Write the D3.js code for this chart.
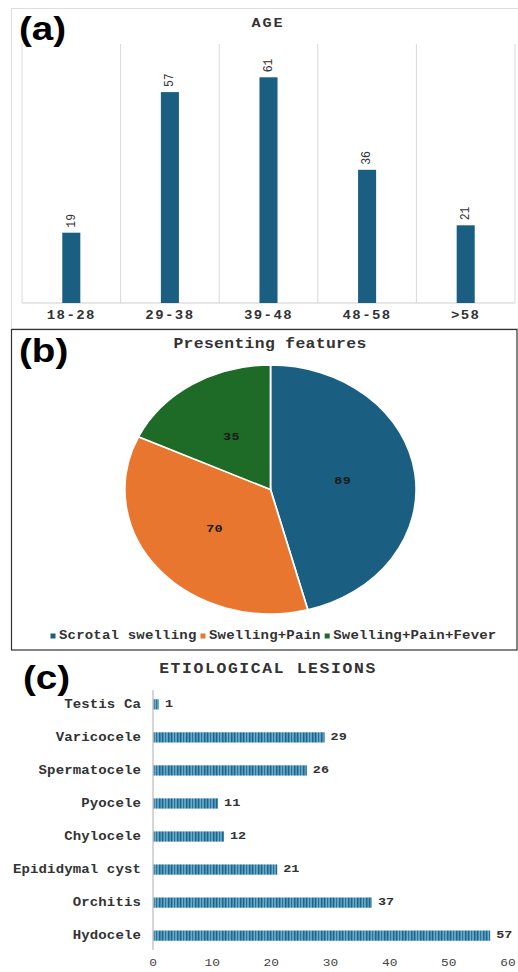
<!DOCTYPE html>
<html>
<head>
<meta charset="utf-8">
<script src="https://cdn.jsdelivr.net/npm/d3@7"></script>
<style>
  html, body { margin: 0; padding: 0; background: #fff; }
  svg { display: block; }
</style>
</head>
<body>
<svg id="chart" width="518" height="972"></svg>
<script>
// ---------- data ----------
const ageCategories = ["18-28", "29-38", "39-48", "48-58", ">58"];
const ageValues = [19, 57, 61, 36, 21];

const featureCategories = ["Scrotal swelling", "Swelling+Pain", "Swelling+Pain+Fever"];
const featureValues = [89, 70, 35];

const lesionCategories = ["Testis Ca", "Varicocele", "Spermatocele", "Pyocele", "Chylocele", "Epididymal cyst", "Orchitis", "Hydocele"];
const lesionValues = [1, 29, 26, 11, 12, 21, 37, 57];
const lesionTicks = [0, 10, 20, 30, 40, 50, 60];

// ---------- styles ----------
const SX = 1.17; // horizontal stretch of the original picture
const MONO = "'Liberation Mono', 'Courier New', monospace";
const SANS = "'Liberation Sans', Arial, sans-serif";
const BLUE = "#1a5f82";
const featureColors = ["#1a5f82", "#e8762f", "#1e6b28"];

const svg = d3.select("#chart");

function T(parent, x, y, s, o = {}) {
  const t = parent.append("text")
    .attr("transform", `translate(${x},${y}) scale(${SX},1)` + (o.rot ? ` rotate(${o.rot})` : ""))
    .attr("text-anchor", o.anchor || "middle")
    .attr("dominant-baseline", o.baseline || "central")
    .attr("font-family", o.family || MONO)
    .attr("font-size", o.size || 12)
    .attr("font-weight", o.weight || "bold")
    .attr("fill", o.fill || "#333")
    .text(s);
  if (o.ls) t.attr("letter-spacing", o.ls);
  return t;
}

// ================= Panel (a) =================
const pa = svg.append("g");
pa.append("rect").attr("x", 11.5).attr("y", 8.5).attr("width", 520).attr("height", 320)
  .attr("fill", "none").attr("stroke", "#ddd");

const xa = d3.scaleBand().domain(ageCategories).range([22, 515]).paddingInner(0.817).paddingOuter(0.4085);
const xaGrid = d3.scaleBand().domain(ageCategories).range([22, 515]).padding(0);
const ya = d3.scaleLinear().domain([0, 70]).range([303, 44]);

// vertical gridlines at category boundaries
const gridX = ageCategories.map(c => xaGrid(c)).concat([xaGrid.range()[1]]);
pa.selectAll("line.grid").data(gridX).join("line")
  .attr("x1", d => d).attr("x2", d => d)
  .attr("y1", ya(70)).attr("y2", ya(0))
  .attr("stroke", "#d9d9d9").attr("stroke-width", 1);
pa.append("line").attr("x1", 22).attr("x2", 515).attr("y1", ya(0)).attr("y2", ya(0))
  .attr("stroke", "#cfcfcf").attr("stroke-width", 1.2);

pa.selectAll("rect.bar").data(ageValues).join("rect")
  .attr("x", (d, i) => xa(ageCategories[i]))
  .attr("width", xa.bandwidth())
  .attr("y", d => ya(d))
  .attr("height", d => ya(0) - ya(d))
  .attr("fill", BLUE);

ageValues.forEach((v, i) => {
  T(pa, xa(ageCategories[i]) + xa.bandwidth() / 2, ya(v) - 5, String(v),
    { rot: -90, anchor: "start", size: 11.5, weight: "normal", fill: "#333" });
});

ageCategories.forEach(c => {
  T(pa, xaGrid(c) + xaGrid.bandwidth() / 2, 316, c, { size: 12, ls: 1.2, fill: "#333" });
});

T(pa, 268, 23, "AGE", { size: 13, ls: 1.6, fill: "#333" });
T(pa, 19, 40, "(a)", { family: SANS, size: 33, anchor: "start", baseline: "alphabetic", fill: "#000" });

// ================= Panel (b) =================
const pb = svg.append("g");
pb.append("rect").attr("x", 11.5).attr("y", 329.5).attr("width", 505.5).attr("height", 320.5)
  .attr("fill", "#fff").attr("stroke", "#333").attr("stroke-width", 1.2);

const R = 124.5;
const pie = d3.pie().sort(null).value(d => d);
const arcs = pie(featureValues);
const arc = d3.arc().innerRadius(0).outerRadius(R);
const pg = pb.append("g").attr("transform", `translate(270.5,489.5) scale(${SX},1)`);
pg.selectAll("path").data(arcs).join("path")
  .attr("d", arc)
  .attr("fill", (d, i) => featureColors[i])
  .attr("stroke", "#fff").attr("stroke-width", 1.5);

arcs.forEach(a => {
  const [cx, cy] = arc.centroid(a);
  T(pb, 270.5 + cx * SX, 489.5 + cy, String(a.data), { size: 11.5, ls: 0.3, fill: "#1a1a1a" });
});

T(pb, 270, 344, "Presenting features", { size: 14, ls: 0.3, fill: "#333" });
T(pb, 19, 362, "(b)", { family: SANS, size: 33, anchor: "start", baseline: "alphabetic", fill: "#000" });

// legend
let lx = 50.5;
featureCategories.forEach((c, i) => {
  pb.append("rect").attr("x", lx).attr("y", 633.5).attr("width", 5).attr("height", 5).attr("fill", featureColors[i]);
  const t = T(pb, lx + 8.5, 636, c, { size: 12, anchor: "start", ls: 0.15, fill: "#333" });
  const w = t.node().getComputedTextLength() * SX;
  lx = lx + 8.5 + w + 4;
});

// ================= Panel (c) =================
const pc = svg.append("g");
const xc = d3.scaleLinear().domain([0, 60]).range([153, 508]);
const yc = d3.scaleBand().domain(lesionCategories).range([690, 950]).paddingInner(0.69).paddingOuter(0.28);

const defs = svg.append("defs");
const pat = defs.append("pattern").attr("id", "stripes").attr("patternUnits", "userSpaceOnUse")
  .attr("width", 9).attr("height", 20);
pat.append("rect").attr("width", 9).attr("height", 20).attr("fill", "#3584ad");
[[0, 1.2, "#1d6489"], [1.8, 0.8, "#94c4dc"], [3.2, 1, "#236d94"], [4.6, 0.8, "#a8d0e3"], [6, 1.3, "#1f668c"], [7.8, 0.7, "#78b0cd"]]
  .forEach(([x, w, c]) => pat.append("rect").attr("x", x).attr("width", w).attr("height", 20).attr("fill", c));

pc.selectAll("rect.bar").data(lesionValues).join("rect")
  .attr("x", xc(0))
  .attr("y", (d, i) => yc(lesionCategories[i]))
  .attr("width", d => xc(d) - xc(0))
  .attr("height", yc.bandwidth())
  .attr("fill", "url(#stripes)");

pc.append("line").attr("x1", xc(0)).attr("x2", xc(0)).attr("y1", 690).attr("y2", 950)
  .attr("stroke", "#c8c8c8").attr("stroke-width", 1.5);

lesionValues.forEach((v, i) => {
  const cy = yc(lesionCategories[i]) + yc.bandwidth() / 2;
  T(pc, xc(v) + 6, cy, String(v), { size: 11.5, anchor: "start", fill: "#333" });
  T(pc, 141, cy, lesionCategories[i], { size: 12, anchor: "end", ls: 0.1, fill: "#333" });
});

lesionTicks.forEach(t => {
  T(pc, xc(t), 963, String(t), { size: 11, weight: "normal", fill: "#444" });
});

T(pc, 268, 669, "ETIOLOGICAL LESIONS", { size: 14, ls: 1.4, fill: "#333" });
T(pc, 23, 689, "(c)", { family: SANS, size: 33, anchor: "start", baseline: "alphabetic", fill: "#000" });
</script>
</body>
</html>
